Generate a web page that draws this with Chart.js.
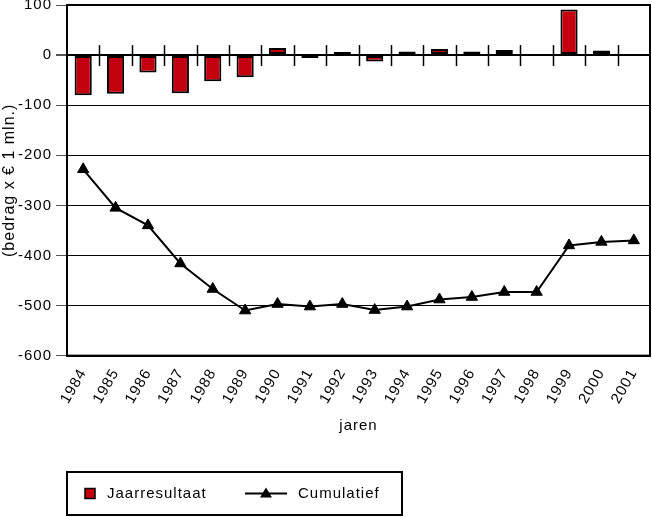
<!DOCTYPE html>
<html>
<head>
<meta charset="utf-8">
<script src="https://cdn.jsdelivr.net/npm/chart.js@4"></script>
<style>
  html, body { margin: 0; padding: 0; background: #fff; }
  canvas { display: block; }
</style>
</head>
<body>
<canvas id="myChart" width="652" height="517"></canvas>
<script>
const years = ["1984", "1985", "1986", "1987", "1988", "1989", "1990", "1991", "1992",
  "1993", "1994", "1995", "1996", "1997", "1998", "1999", "2000", "2001"];
const jaarresultaat = [-80, -77, -35, -76, -52, -44, 14, -6, 6, -13, 7, 12, 7, 10, 1, 91, 9, 2];
const cumulatief = [-228, -305, -340, -416, -467, -510, -497, -502, -497, -509, -502, -488, -483, -473, -473, -380, -373, -370];
const yMin = -600;
const yMax = 100;
const yStep = 100;

const barRed = "#c4000e";
const font = "'Liberation Sans', Arial, sans-serif";

Chart.defaults.font.family = font;
Chart.defaults.color = "#000";

// the original text is set a little wide
const spacing = {
  id: "spacing",
  beforeLayout(chart) { chart.ctx.letterSpacing = "1px"; },
  beforeDraw(chart) { chart.ctx.letterSpacing = "1px"; },
};

// frame round the plot area + little ticks across the zero line
const frameAndZeroTicks = {
  id: "frameAndZeroTicks",
  afterDatasetsDraw(chart) {
    const { ctx, chartArea, scales } = chart;
    const y0 = scales.y.getPixelForValue(0);
    ctx.save();
    ctx.strokeStyle = "#000";
    ctx.lineWidth = 1.5;
    for (let i = 1; i < years.length; i++) {
      const x = (scales.x.getPixelForValue(i - 1) + scales.x.getPixelForValue(i)) / 2;
      ctx.beginPath();
      ctx.moveTo(Math.round(x) + 0.5, y0 - 10);
      ctx.lineTo(Math.round(x) + 0.5, y0 + 11);
      ctx.stroke();
    }
    ctx.lineWidth = 2;
    ctx.strokeRect(chartArea.left, chartArea.top, chartArea.right - chartArea.left, chartArea.bottom - chartArea.top);
    ctx.restore();
  },
};

// boxed legend under the chart
const boxedLegend = {
  id: "boxedLegend",
  afterDraw(chart) {
    const { ctx, chartArea } = chart;
    const ds = chart.data.datasets;
    const left = chartArea.left;
    const top = 472, bottom = 515, right = 402;
    const cy = (top + bottom) / 2;
    ctx.save();
    ctx.fillStyle = "#fff";
    ctx.fillRect(left, top, right - left, bottom - top);
    ctx.strokeStyle = "#000";
    ctx.lineWidth = 2;
    ctx.strokeRect(left, top, right - left, bottom - top);

    // bar item
    ctx.fillStyle = barRed;
    ctx.fillRect(left + 18, cy - 5, 10, 10);
    ctx.lineWidth = 1.5;
    ctx.strokeRect(left + 18, cy - 5, 10, 10);

    ctx.font = "15px " + font;
    ctx.fillStyle = "#000";
    ctx.textBaseline = "middle";
    ctx.fillText(ds[0].label, left + 40, cy);

    // line item
    const lx = left + 178;
    ctx.lineWidth = 2;
    ctx.beginPath();
    ctx.moveTo(lx, cy);
    ctx.lineTo(lx + 42, cy);
    ctx.stroke();
    ctx.beginPath();
    ctx.moveTo(lx + 21, cy - 6);
    ctx.lineTo(lx + 27, cy + 4);
    ctx.lineTo(lx + 15, cy + 4);
    ctx.closePath();
    ctx.fill();
    ctx.fillText(ds[1].label, lx + 53, cy);
    ctx.restore();
  },
};

const ctx = document.getElementById("myChart");

const chart = new Chart(ctx, {
  data: {
    labels: years,
    datasets: [
      {
        type: "bar",
        label: "Jaarresultaat",
        data: jaarresultaat,
        backgroundColor: barRed,
        borderColor: "#000",
        borderWidth: 2,
        borderSkipped: false,
        barPercentage: 0.53,
        categoryPercentage: 1,
        order: 2,
      },
      {
        type: "line",
        label: "Cumulatief",
        data: cumulatief,
        borderColor: "#000",
        borderWidth: 2,
        pointStyle: "triangle",
        pointRadius: 6.5,
        pointBackgroundColor: "#000",
        pointBorderColor: "#000",
        pointBorderWidth: 1,
        tension: 0,
        order: 1,
      },
    ],
  },
  options: {
    responsive: false,
    animation: false,
    devicePixelRatio: 1,
    layout: {
      autoPadding: false,
      padding: { top: 5, right: 2, left: 0, bottom: 82 },
    },
    plugins: {
      legend: { display: false },
      tooltip: { enabled: false },
    },
    scales: {
      x: {
        grid: { display: false },
        border: { display: true, color: "#000", width: 2 },
        ticks: {
          minRotation: 60,
          maxRotation: 60,
          autoSkip: false,
          padding: 2,
          font: { size: 15 },
        },
        title: {
          display: true,
          text: "jaren",
          font: { size: 15 },
          padding: { top: 8, bottom: 0 },
        },
        afterFit(scale) {
          scale.paddingLeft = 0;
          scale.paddingRight = 0;
        },
      },
      y: {
        min: yMin,
        max: yMax,
        grid: {
          color: "#000",
          lineWidth: (c) => (c.tick && c.tick.value === 0 ? 2 : 1),
          tickLength: 11,
          tickColor: "#555",
        },
        border: { display: true, color: "#000", width: 2 },
        ticks: {
          stepSize: yStep,
          padding: 4,
          font: { size: 15 },
        },
        title: {
          display: true,
          text: "(bedrag x € 1 mln.)",
          font: { size: 16 },
          padding: { top: 0, bottom: 0 },
        },
        afterFit(scale) {
          scale.paddingTop = 0;
          scale.paddingBottom = 0;
          scale.width = 67;
        },
      },
    },
  },
  plugins: [spacing, frameAndZeroTicks, boxedLegend],
});
</script>
</body>
</html>
